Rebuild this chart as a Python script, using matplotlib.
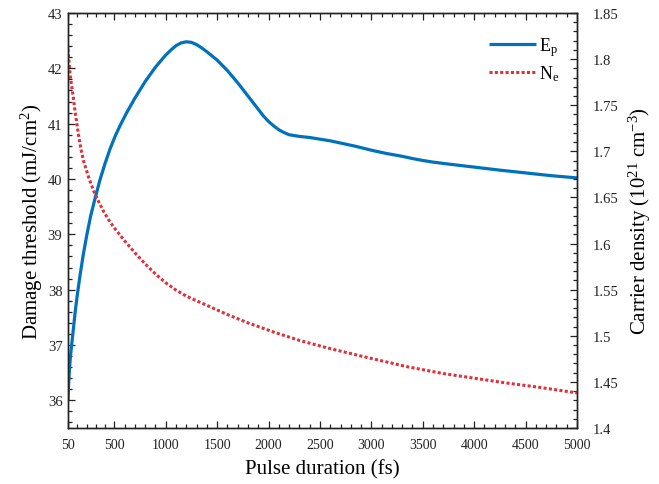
import matplotlib
matplotlib.use("Agg")
import matplotlib.pyplot as plt
from matplotlib.ticker import FixedLocator, MultipleLocator

plt.rcParams['font.family'] = ['Liberation Serif', 'DejaVu Serif']
plt.rcParams['mathtext.fontset'] = 'custom'
plt.rcParams['mathtext.rm'] = 'Liberation Serif'
plt.rcParams['mathtext.it'] = 'Liberation Serif:italic'

# Damage threshold vs pulse duration (left axis)
ep_duration = [50, 55, 62, 72, 85, 100, 120, 140, 167, 200, 232, 270, 313, 360, 410,
               460, 510, 560, 621, 700, 800, 900, 1000, 1050, 1100, 1150, 1200, 1250,
               1300, 1350, 1400, 1500, 1600, 1700, 1800, 1900, 1950, 2000, 2050, 2100,
               2150, 2200, 2300, 2400, 2500, 2600, 2700, 2850, 3000, 3150, 3300, 3400,
               3500, 3600, 3750, 4000, 4250, 4500, 4750, 5000]
ep_threshold = [36.0, 36.25, 36.5, 36.75, 37.0, 37.25, 37.6, 37.9, 38.26, 38.65, 38.98,
                39.33, 39.65, 39.98, 40.28, 40.55, 40.78, 40.98, 41.2, 41.46, 41.76,
                42.02, 42.24, 42.33, 42.41, 42.46, 42.48, 42.47, 42.43, 42.37, 42.3,
                42.15, 41.96, 41.74, 41.5, 41.26, 41.14, 41.04, 40.96, 40.89, 40.84,
                40.8, 40.77, 40.75, 40.72, 40.69, 40.65, 40.59, 40.52, 40.46, 40.41,
                40.37, 40.335, 40.305, 40.27, 40.215, 40.16, 40.11, 40.06, 40.02]

# Carrier density vs pulse duration (right axis)
ne_duration = [50, 60, 70, 85, 102, 120, 135, 150, 175, 200, 250, 300, 350, 400, 450,
               500, 600, 700, 800, 900, 1000, 1100, 1200, 1400, 1600, 1800, 2050, 2300,
               2566, 2900, 3345, 3700, 4000, 4300, 4640, 5000]
ne_density = [1.811, 1.797, 1.784, 1.771, 1.758, 1.742, 1.731, 1.719, 1.703, 1.69,
              1.672, 1.657, 1.645, 1.634, 1.625, 1.617, 1.603, 1.59, 1.578, 1.567,
              1.5575, 1.5495, 1.543, 1.533, 1.523, 1.514, 1.504, 1.495, 1.487, 1.478,
              1.4665, 1.459, 1.454, 1.449, 1.444, 1.438]

x_ticks = [50, 500, 1000, 1500, 2000, 2500, 3000, 3500, 4000, 4500, 5000]
x_minor = [140, 230, 320, 410] + [v for v in range(600, 5000, 100) if v % 500]
right_ticks = [1.4, 1.45, 1.5, 1.55, 1.6, 1.65, 1.7, 1.75, 1.8, 1.85]
right_labels = ['1.4', '1.45', '1.5', '1.55', '1.6', '1.65', '1.7', '1.75', '1.8', '1.85']

BLUE = '#0072BD'
RED = '#E0303A'
INK = '#222222'

fig = plt.figure(figsize=(6.59, 4.85), dpi=100)
ax = fig.add_axes([0.1032, 0.1155, 0.7724, 0.8556])
ax2 = ax.twinx()

l1, = ax.plot(ep_duration, ep_threshold, color=BLUE, lw=2.3,
              solid_capstyle='butt', solid_joinstyle='round')
l2, = ax2.plot(ne_duration, ne_density, color=RED, lw=2.2,
               linestyle=(0, (1, 0.75)), dash_capstyle='butt')

ax.set_xlim(50, 5000)
ax.set_ylim(35.5, 43)
ax2.set_ylim(1.4, 1.85)

ax.xaxis.set_major_locator(FixedLocator(x_ticks))
ax.xaxis.set_minor_locator(FixedLocator(x_minor))
ax.yaxis.set_major_locator(MultipleLocator(1))
ax.yaxis.set_minor_locator(MultipleLocator(0.2))
ax2.set_yticks(right_ticks)
ax2.set_yticklabels(right_labels)
ax2.yaxis.set_minor_locator(MultipleLocator(0.01))

ax.tick_params(axis='x', which='both', direction='in', top=True, bottom=True,
               labelsize=10, pad=7.5, colors=INK)
ax.tick_params(axis='y', which='both', direction='in', left=True, right=False,
               labelsize=10.5, pad=4, colors=INK)
ax2.tick_params(axis='y', which='both', direction='in', right=True,
                labelsize=10.5, pad=11, colors=INK)
for a in (ax, ax2):
    a.tick_params(which='major', length=4.8, width=0.9)
    a.tick_params(which='minor', length=3, width=0.9)
    for s in a.spines.values():
        s.set_linewidth(1.0)
        s.set_color(INK)

ax.set_xlabel('Pulse duration (fs)', fontsize=15)
ax.set_ylabel('Damage threshold (mJ/cm$^{2}$)', fontsize=15)
ax2.set_ylabel('Carrier density (10$^{21}$ cm$^{-3}$)', fontsize=15, rotation=90)
ax.xaxis.set_label_coords(0.5, -0.074)
ax.yaxis.set_label_coords(-0.045, 0.5)
ax2.yaxis.set_label_coords(1.097, 0.5)

ax.legend([l1, l2], ['E$_\\mathrm{p}$', 'N$_\\mathrm{e}$'], loc='upper left',
          bbox_to_anchor=(0.795, 0.985), frameon=False, fontsize=13,
          handlelength=2.6, handletextpad=0.15, labelspacing=0.25)

fig.savefig('out.png', dpi=100)
